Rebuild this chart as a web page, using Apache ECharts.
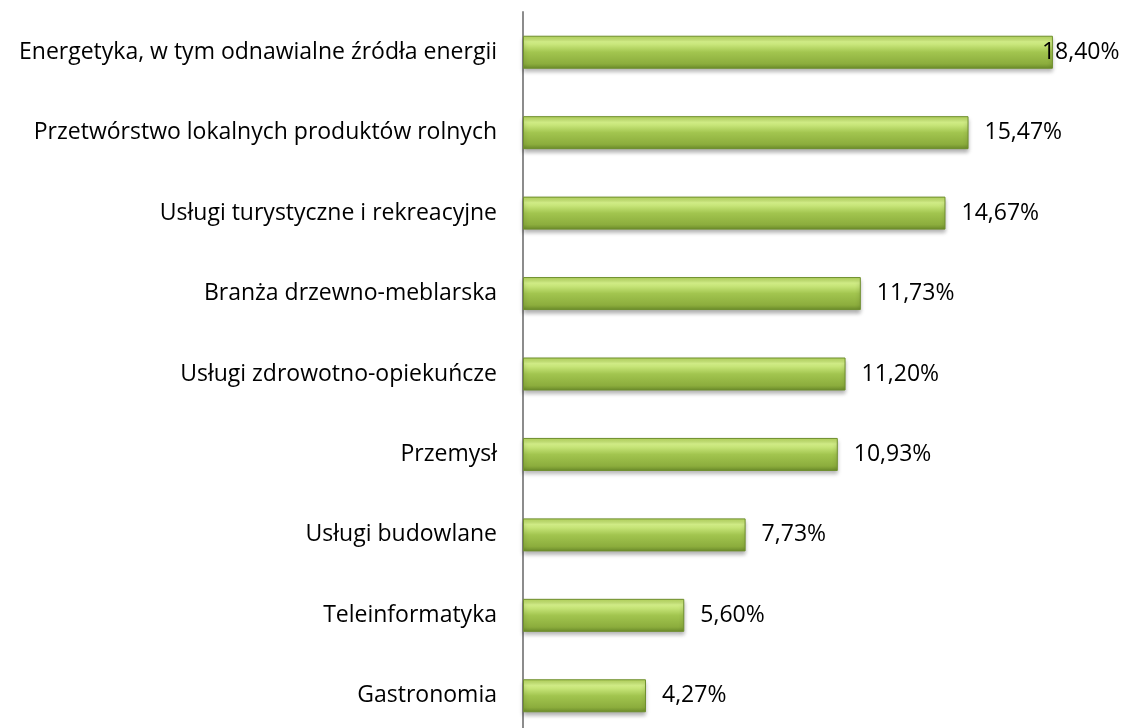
<!DOCTYPE html>
<html>
<head>
<meta charset="utf-8">
<script src="https://cdn.jsdelivr.net/npm/echarts@6/dist/echarts.min.js"></script>
<style>
  html, body { margin: 0; padding: 0; background: #fff; overflow: hidden; }
  #chart { width: 1123px; height: 740px; }
</style>
</head>
<body>
<div id="chart"></div>
<script>
const categories = [
  'Energetyka, w tym odnawialne źródła energii',
  'Przetwórstwo lokalnych produktów rolnych',
  'Usługi turystyczne i rekreacyjne',
  'Branża drzewno-meblarska',
  'Usługi zdrowotno-opiekuńcze',
  'Przemysł',
  'Usługi budowlane',
  'Teleinformatyka',
  'Gastronomia'
];
const values = [18.40, 15.47, 14.67, 11.73, 11.20, 10.93, 7.73, 5.60, 4.27];

// the chart box is a bit taller than the window so the axis runs off the bottom edge
const chart = echarts.init(document.getElementById('chart'));

const barColor = new echarts.graphic.LinearGradient(0, 0, 0, 1, [
  { offset: 0, color: '#b2d25a' },
  { offset: 0.18, color: '#d6f28a' },
  { offset: 0.5, color: '#a2c54f' },
  { offset: 0.85, color: '#8cad3d' },
  { offset: 1, color: '#6a8a2a' }
]);

const seriesData = values.map((v, i) => {
  let item = { value: v };
  if (i === 0) {
    // the top label sits partly over the bar in the original
    item.label = { offset: [-27, 0] };
  }
  return item;
});

let option = {
  animation: false,
  grid: {
    left: 523,
    top: 12,
    right: 24,
    bottom: 4
  },
  xAxis: {
    type: 'value',
    min: 0,
    max: 20,
    show: false
  },
  yAxis: {
    type: 'category',
    inverse: true,
    data: categories,
    axisLine: { show: true, lineStyle: { color: '#8c8c8c', width: 2 } },
    axisTick: { show: false },
    axisLabel: {
      color: '#000',
      fontSize: 23,
      fontFamily: 'Open Sans',
      margin: 26
    }
  },
  series: [
    {
      type: 'bar',
      data: seriesData,
      barWidth: 33,
      itemStyle: {
        color: barColor,
        borderColor: '#6f8f2e',
        borderWidth: 1,
        shadowColor: 'rgba(0,0,0,0.3)',
        shadowBlur: 4,
        shadowOffsetY: 3
      },
      label: {
        show: true,
        position: 'right',
        distance: 16,
        color: '#000',
        fontSize: 23,
        fontFamily: 'Open Sans',
        formatter: p => p.value.toFixed(2).replace('.', ',') + '%'
      }
    }
  ]
};
chart.setOption(option);
</script>
</body>
</html>
